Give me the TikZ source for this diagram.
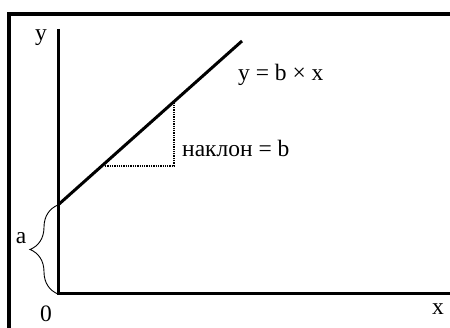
\documentclass[tikz,border=0pt]{standalone}
\usepackage{fontspec}
\setmainfont{Liberation Serif}
\usetikzlibrary{decorations.pathreplacing}
\begin{document}
\begin{tikzpicture}[x=1pt, y=1pt, font=\fontsize{23.5}{26}\selectfont,
		axis/.style={line width=3pt},
		slope/.style={line width=3pt},
		aux/.style={densely dotted, line width=1.3pt},
		lbl/.style={inner sep=0pt}]
			\useasboundingbox (0,0) rectangle (450,328);
			\clip (0,0) rectangle (450,328);
			\draw[line width=4pt] (8.5,-10) rectangle (470,314);
			% axes
			\coordinate (O) at (58,34);
			\coordinate (ytop) at (58,299);
			\coordinate (xend) at (460,34);
			\draw[axis] (ytop) -- (O) -- (xend);
			% line
			\coordinate (a) at (58,123);
			\coordinate (lend) at (242,287);
			\draw[slope] (a) -- (lend);
			\coordinate (t1) at (105,162);
			\coordinate (t2) at (174,162);
			\coordinate (t3) at (174,227);
			\draw[aux] (t1) -- (t2) -- (t3);
			% brace
			\draw[line width=0.9pt, decorate, decoration={brace, amplitude=28pt}]
				(O) -- (a);
			% labels
			\node[lbl] (ylab) at (41,290) {y};
			\node[lbl] (xlab) at (438,19) {x};
			\node[lbl] (zero) at (46,14) {0};
			\node[lbl] (alab) at (21,90) {a};
			\node[lbl, anchor=west] (eq) at (238,253) {y = b × x};
			\node[lbl, anchor=west] (nakl) at (182,180) {наклон = b};
		\end{tikzpicture}
\end{document}
